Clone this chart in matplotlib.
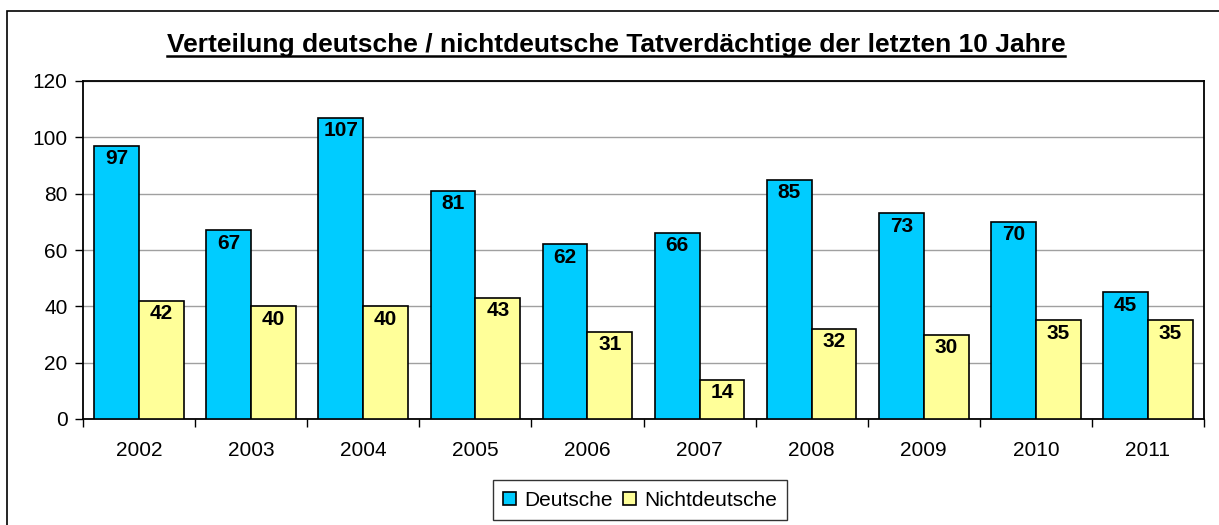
import matplotlib
matplotlib.use('Agg')
import matplotlib.pyplot as plt
import numpy as np
from matplotlib.lines import Line2D
from matplotlib.patches import Rectangle

plt.rcParams['font.family'] = ['Liberation Sans', 'DejaVu Sans']

years = ['2002', '2003', '2004', '2005', '2006', '2007', '2008', '2009', '2010', '2011']
deutsche = [97, 67, 107, 81, 62, 66, 85, 73, 70, 45]
nichtdeutsche = [42, 40, 40, 43, 31, 14, 32, 30, 35, 35]

fig = plt.figure(figsize=(12.19, 5.25), dpi=100)
# Rahmen um das ganze Diagramm (rechts und unten abgeschnitten)
fig.patches.append(Rectangle((7 / 1219, -0.05), 1.1, (525 - 11) / 525 + 0.05,
                             transform=fig.transFigure, fill=False,
                             edgecolor='black', linewidth=1.2))

ax = fig.add_axes([83 / 1219, 1 - 419 / 525, (1204 - 83) / 1219, (419 - 81) / 525])

x = np.arange(len(years))
w = 0.4
b1 = ax.bar(x - w / 2, deutsche, w, color='#00CCFF', edgecolor='black', linewidth=1.2,
            label='Deutsche', zorder=3)
b2 = ax.bar(x + w / 2, nichtdeutsche, w, color='#FFFF99', edgecolor='black', linewidth=1.2,
            label='Nichtdeutsche', zorder=3)

for bars in (b1, b2):
    for r in bars:
        ax.text(r.get_x() + r.get_width() / 2, r.get_height() - 1.2, f'{int(r.get_height())}',
                ha='center', va='top', fontsize=15, fontweight='bold', zorder=4)

ax.set_xlim(-0.5, len(years) - 0.5)
ax.set_ylim(0, 120)
ax.set_yticks(range(0, 121, 20))
ax.tick_params(axis='y', labelsize=15, direction='out', length=6, width=1, pad=5)
ax.grid(axis='y', color='#A0A0A0', linewidth=1, zorder=0)

ax.set_xticks(np.arange(-0.5, len(years), 1.0))
ax.set_xticklabels([])
ax.set_xticks(x, minor=True)
ax.set_xticklabels(years, minor=True)
ax.tick_params(axis='x', which='major', direction='out', length=6, width=1)
ax.tick_params(axis='x', which='minor', length=0, labelsize=15, pad=16)

for s in ax.spines.values():
    s.set_linewidth(1.3)
    s.set_color('black')

# Titel, unterstrichen
title = fig.text(616 / 1219, 1 - 45 / 525, 'Verteilung deutsche / nichtdeutsche Tatverdächtige der letzten 10 Jahre',
                 ha='center', va='center', fontsize=19, fontweight='bold')
fig.canvas.draw()
bb = title.get_window_extent().transformed(fig.transFigure.inverted())
uy = bb.y0 + 0.001
fig.add_artist(Line2D([bb.x0, bb.x1], [uy, uy], transform=fig.transFigure, color='black', linewidth=1.8))

leg = fig.legend(loc='center', bbox_to_anchor=(640 / 1219, 1 - 500 / 525), ncol=2, fontsize=15,
                 frameon=True, fancybox=False, edgecolor='black', handlelength=0.6, handleheight=0.6,
                 handletextpad=0.4, columnspacing=0.5, borderpad=0.5)
leg.get_frame().set_linewidth(1)

fig.savefig('out.png', dpi=100)
plt.close(fig)
